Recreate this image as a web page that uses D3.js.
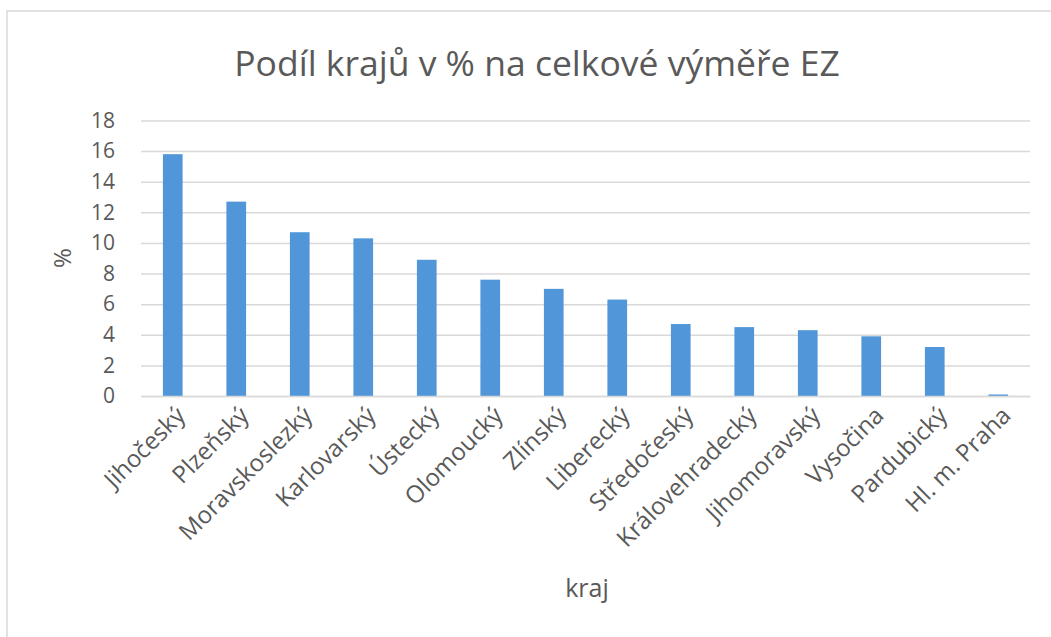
<!DOCTYPE html>
<html>
<head>
<meta charset="utf-8">
<script src="https://cdn.jsdelivr.net/npm/d3@7"></script>
<style>
  html, body { margin: 0; padding: 0; background: #fff; }
  svg text { font-family: "Open Sans", "Noto Sans", sans-serif; fill: #595959; }
</style>
</head>
<body>
<svg id="chart" width="1051" height="637"></svg>
<script>
const categories = ["Jihočeský", "Plzeňský", "Moravskoslezký", "Karlovarský", "Ústecký", "Olomoucký", "Zlínský", "Liberecký", "Středočeský", "Královehradecký", "Jihomoravský", "Vysočina", "Pardubický", "Hl. m. Praha"];
const values = [15.8, 12.7, 10.7, 10.3, 8.9, 7.6, 7.0, 6.3, 4.7, 4.5, 4.3, 3.9, 3.2, 0.1];
const yTicks = [0, 2, 4, 6, 8, 10, 12, 14, 16, 18];
const titleText = "Podíl krajů v % na celkové výměře EZ";
const xTitle = "kraj";
const yTitle = "%";

const svg = d3.select("#chart");
const W = 1051, H = 637;
const plot = { left: 141, right: 1030, top: 120.5, bottom: 396 };

// frame
svg.append("rect").attr("x", 7).attr("y", 11).attr("width", W + 20).attr("height", H + 20)
  .attr("fill", "#fff").attr("stroke", "#d9d9d9").attr("stroke-width", 1.5);

const x = d3.scaleBand().domain(categories).range([plot.left, plot.right]).paddingInner(0.69).paddingOuter(0.345);
const y = d3.scaleLinear().domain([0, 18]).range([plot.bottom, plot.top]);

// gridlines
const grid = d3.axisLeft(y).tickValues(yTicks).tickSize(-(plot.right - plot.left)).tickFormat("");
const gg = svg.append("g").attr("transform", `translate(${plot.left},0)`).call(grid);
gg.select(".domain").remove();
gg.selectAll("line").attr("stroke", "#d9d9d9").attr("stroke-width", 1.5);

// y axis labels
const ya = svg.append("g").attr("transform", `translate(${plot.left},0)`)
  .call(d3.axisLeft(y).tickValues(yTicks).tickSize(0).tickPadding(26));
ya.select(".domain").remove();
ya.selectAll("text").attr("font-size", 21).attr("fill", "#595959").style("font-family", '"Open Sans", sans-serif');

// bars
svg.append("g").selectAll("rect").data(values).join("rect")
  .attr("x", (d, i) => x(categories[i]))
  .attr("width", x.bandwidth())
  .attr("y", d => y(d))
  .attr("height", d => y(0) - y(d))
  .attr("fill", "#5096d8");

// x axis
const xa = svg.append("g").attr("transform", `translate(0,${plot.bottom})`)
  .call(d3.axisBottom(x).tickSize(0).tickPadding(0));
xa.select(".domain").attr("stroke", "#d9d9d9").attr("stroke-width", 1.5);
xa.selectAll("text")
  .attr("font-size", 24).attr("fill", "#595959").style("font-family", '"Open Sans", sans-serif')
  .attr("text-anchor", "end")
  .attr("dy", 0).attr("y", 0)
  .attr("transform", "translate(14,21) rotate(-45)");

// title
svg.append("text").attr("x", 537).attr("y", 76).attr("text-anchor", "middle")
  .attr("font-size", 35.5).text(titleText);

// axis titles
svg.append("text").attr("x", 587).attr("y", 597).attr("text-anchor", "middle")
  .attr("font-size", 25).text(xTitle);
svg.append("text").attr("transform", "translate(71,258) rotate(-90)").attr("text-anchor", "middle")
  .attr("font-size", 24).text(yTitle);
</script>
</body>
</html>
